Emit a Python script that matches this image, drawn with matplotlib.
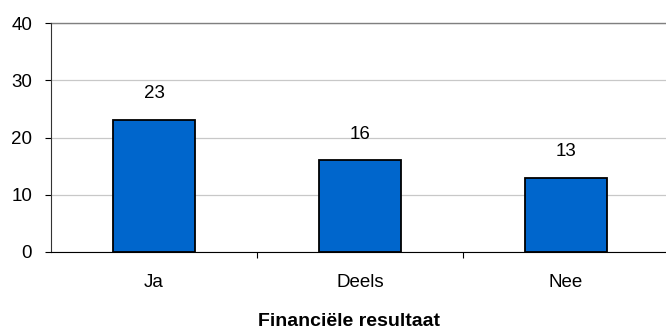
import matplotlib
matplotlib.use("Agg")
import matplotlib.pyplot as plt

plt.rcParams['font.family'] = ['Liberation Sans', 'DejaVu Sans']
plt.rcParams['font.size'] = 13.5

categories = ["Ja", "Deels", "Nee"]
values = [23, 16, 13]
yticks = [0, 10, 20, 30, 40]

fig = plt.figure(figsize=(6.66, 3.36), dpi=100)
ax = fig.add_axes([51 / 666, 84 / 336, 618 / 666, 229 / 336])

x = range(len(categories))
bars = ax.bar(x, values, width=0.4, color="#0066cc", edgecolor="black", linewidth=1.3, zorder=3)

# value labels above bars
for b, v in zip(bars, values):
    ax.annotate(str(v), (b.get_x() + b.get_width() / 2, v),
                xytext=(0, 19), textcoords="offset points",
                ha="center", va="center")

ax.set_xlim(-0.5, 2.5)
ax.set_ylim(0, 40)
ax.set_yticks(yticks)
ax.yaxis.grid(True, color="#c8c8c8", linewidth=0.9, zorder=0)
ax.set_axisbelow(True)

for s in ["top", "right"]:
    ax.spines[s].set_visible(False)
ax.spines["left"].set_color("#333333")
ax.spines["bottom"].set_color("black")
ax.plot([-0.5, 2.5], [40, 40], color="#808080", lw=1, clip_on=False, zorder=2)

ax.set_xticks([0.5, 1.5])
ax.set_xticklabels([])
ax.tick_params(axis="x", length=4, direction="out", color="black")
ax.tick_params(axis="y", length=4.5, direction="out", pad=9)
for i, c in enumerate(categories):
    ax.text(i, -5.4, c, ha="center", va="center")

fig.text(349 / 666, 1 - 322 / 336, "Financiële resultaat", ha="center", va="center",
         fontsize=14, fontweight="bold")

fig.savefig("out.png", dpi=100)
